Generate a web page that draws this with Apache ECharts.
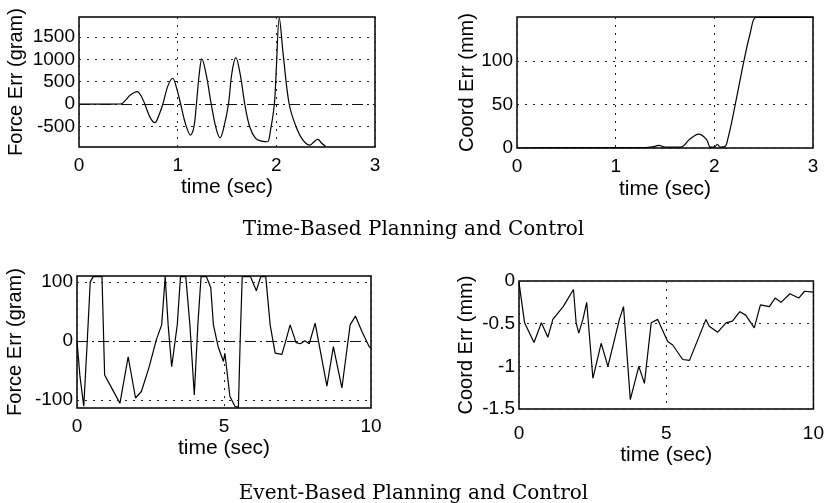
<!DOCTYPE html>
<html><head><meta charset="utf-8">
<script src="https://cdn.jsdelivr.net/npm/echarts@6/dist/echarts.min.js"></script>
<style>html,body{margin:0;padding:0;background:#fff}#c{width:827px;height:503px}</style>
</head><body><div id="c"></div>
<script>
// ---------- DATA ----------
// Panel 1: Time-based, force error (gram) vs time (sec)
const t1 = [0, 0.2, 0.42, 0.47, 0.52, 0.59, 0.63, 0.667, 0.72, 0.77, 0.81, 0.85, 0.9, 0.95, 0.99, 1.03, 1.08, 1.13, 1.165, 1.19, 1.22, 1.245, 1.29, 1.34, 1.39, 1.43, 1.47, 1.515, 1.55, 1.59, 1.635, 1.68, 1.73, 1.79, 1.85, 1.91, 1.94, 1.98, 2.0, 2.03, 2.07, 2.13, 2.2, 2.27, 2.34, 2.38, 2.42, 2.46, 2.5];
const f1 = [0, -5, 0, 80, 200, 276, 180, 0, -300, -419, -250, 0, 400, 576, 350, 0, -450, -695, -509, 0, 700, 1009, 650, 0, -550, -755, -500, 0, 700, 1038, 650, 0, -509, -770, -830, -845, -600, 0, 800, 1921, 1100, 0, -509, -807, -919, -850, -791, -880, -950];
// Panel 2: Time-based, coordinate error (mm)
const t2 = [0, 0.5, 1.0, 1.3, 1.38, 1.44, 1.5, 1.66, 1.75, 1.84, 1.92, 1.96, 2.0, 2.03, 2.06, 2.11, 2.14, 2.18, 2.24, 2.3, 2.36, 2.42, 2.5, 3.0];
const c2 = [0, 0.5, 0.5, 0.5, 1.5, 3, 1, 1, 10, 16, 10, 1, 1, 4, 1, 2, 12, 32, 66, 100, 130, 150, 150, 150];
// Panel 3: Event-based, force error (gram)
const t3 = [0, 0.1, 0.23, 0.35, 0.45, 0.55, 0.85, 0.94, 1.2, 1.46, 1.74, 1.99, 2.19, 2.45, 2.7, 2.88, 3.0, 3.1, 3.22, 3.41, 3.52, 3.7, 3.84, 3.99, 4.11, 4.22, 4.4, 4.55, 4.64, 4.8, 4.98, 5.03, 5.2, 5.37, 5.49, 5.55, 5.62, 5.9, 6.1, 6.25, 6.42, 6.57, 6.74, 6.97, 7.1, 7.25, 7.45, 7.6, 7.75, 7.9, 8.1, 8.5, 8.72, 9.01, 9.29, 9.47, 9.7, 9.94, 10];
const f3 = [0, -60, -111, 0, 100, 109, 109, -58, -82, -106, -27, -97, -86, -45, 2, 27, 109, 27, -44, 27, 109, 109, 27, -92, 27, 109, 109, 90, 27, -10, -35, -21, -94, -111, -113, 0, 109, 109, 85, 109, 109, 27, -21, -23, 0, 27, -3, -5, 0, -5, 30, -77, -10, -80, 27, 42, 15, -10, -12];
// Panel 4: Event-based, coordinate error (mm)
const t4 = [0, 0.19, 0.51, 0.76, 0.98, 1.15, 1.5, 1.85, 1.94, 2.03, 2.17, 2.3, 2.51, 2.79, 3.02, 3.41, 3.55, 3.78, 4.07, 4.26, 4.49, 4.71, 5.05, 5.22, 5.56, 5.79, 6.07, 6.35, 6.46, 6.75, 7.03, 7.25, 7.5, 7.7, 7.99, 8.2, 8.5, 8.7, 8.9, 9.2, 9.5, 9.7, 10];
const c4 = [-0.02, -0.49, -0.72, -0.49, -0.66, -0.45, -0.3, -0.1, -0.49, -0.61, -0.45, -0.25, -1.14, -0.73, -1.0, -0.45, -0.3, -1.39, -1.0, -1.2, -0.49, -0.45, -0.71, -0.75, -0.92, -0.93, -0.69, -0.45, -0.53, -0.6, -0.49, -0.47, -0.36, -0.4, -0.55, -0.28, -0.3, -0.2, -0.25, -0.15, -0.2, -0.12, -0.13];

const yTicks1 = [-500, 0, 500, 1000, 1500];
const yTicks2 = [0, 50, 100];
const yTicks3 = [-100, 0, 100];
const yTicks4 = [-1.5, -1, -0.5, 0];
const xTicksTop = [0, 1, 2, 3];
const xTicksBottom = [0, 5, 10];
const yNames = ['Force Err (gram)', 'Coord Err (mm)', 'Force Err (gram)', 'Coord Err (mm)'];
const xName = 'time (sec)';
const titles = ['Time-Based Planning and Control', 'Event-Based Planning and Control'];

// ---------- LAYOUT / STYLE ----------
const FONT = 'Liberation Sans';
const panels = [
  {rect: {left: 79, top: 17, width: 296, height: 130}, x: [0, 3, 1], y: [-963, 1948], yt: yTicks1, xt: xTicksTop, t: t1, v: f1, zero: true, nameGap: 53, smooth: 0.35, xGap: 30},
  {rect: {left: 517, top: 17, width: 296, height: 131}, x: [0, 3, 1], y: [0, 150.4], yt: yTicks2, xt: xTicksTop, t: t2, v: c2, zero: false, nameGap: 36, smooth: 0.35, xGap: 31},
  {rect: {left: 77, top: 276, width: 294, height: 132}, x: [0, 10, 5], y: [-114, 110], yt: yTicks3, xt: xTicksBottom, t: t3, v: f3, zero: true, nameGap: 52, smooth: false, xGap: 30},
  {rect: {left: 519, top: 281, width: 296, height: 128}, x: [0, 10, 5], y: [-1.5, 0], yt: yTicks4, xt: xTicksBottom, t: t4, v: c4, zero: false, nameGap: 43, smooth: false, xGap: 36}
];
const dotted = {type: [2, 6], color: '#222', width: 1};

const grid = [], xAxis = [], yAxis = [], series = [];
panels.forEach((p, i) => {
  grid.push(Object.assign({show: true, borderColor: '#000', borderWidth: 1.5, backgroundColor: 'transparent'}, p.rect));
  xAxis.push({
    type: 'value', gridIndex: i, min: p.x[0], max: p.x[1], interval: p.x[2],
    axisLine: {show: false}, axisTick: {show: false},
    axisLabel: {customValues: p.xt, margin: i === 3 ? 15 : 9, fontFamily: FONT, fontSize: 19, color: '#000', formatter: v => String(v)},
    splitLine: {show: true, lineStyle: dotted},
    name: xName, nameLocation: 'middle', nameGap: p.xGap,
    nameTextStyle: {fontFamily: FONT, fontSize: 21, color: '#000'}
  });
  yAxis.push({
    type: 'value', gridIndex: i, min: p.y[0], max: p.y[1],
    axisLine: {show: false}, axisTick: {show: false},
    axisLabel: {customValues: p.yt, margin: 4, fontFamily: FONT, fontSize: 19, color: '#000', formatter: v => String(v)},
    splitLine: {show: false},
    name: yNames[i], nameLocation: 'middle', nameGap: p.nameGap,
    nameTextStyle: {fontFamily: FONT, fontSize: 20, color: '#000'}
  });
  const ml = p.yt.filter(y => y !== 0 || !p.zero).map(y => ({yAxis: y, lineStyle: dotted}));
  if (p.zero) ml.push({yAxis: 0, lineStyle: {type: [11, 4, 2, 4], color: '#111', width: 1.2}});
  series.push({
    type: 'line', xAxisIndex: i, yAxisIndex: i,
    data: p.t.map((x, k) => [x, p.v[k]]),
    showSymbol: false, smooth: p.smooth,
    lineStyle: {color: '#000', width: 1.2},
    markLine: {silent: true, symbol: 'none', label: {show: false}, data: ml}
  });
});

const chart = echarts.init(document.getElementById('c'), null, {renderer: 'canvas'});
chart.setOption({
  animation: false,
  backgroundColor: '#fff',
  title: [
    {text: titles[0], left: 'center', top: 215, textStyle: {fontFamily: 'DejaVu Serif', fontSize: 20, fontWeight: 'normal', color: '#000'}},
    {text: titles[1], left: 'center', top: 479, textStyle: {fontFamily: 'DejaVu Serif', fontSize: 20, fontWeight: 'normal', color: '#000'}}
  ],
  grid, xAxis, yAxis, series
});
</script></body></html>
